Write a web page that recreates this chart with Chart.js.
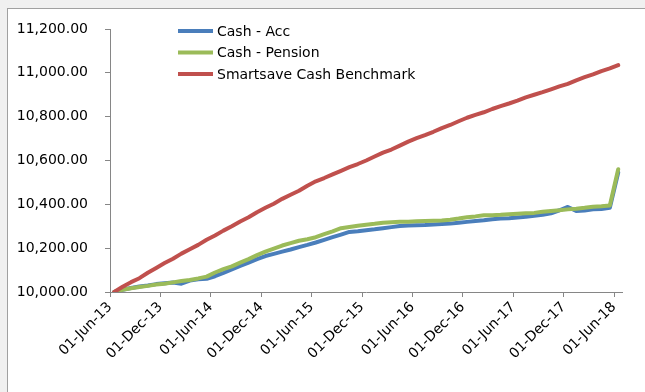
<!DOCTYPE html>
<html>
<head>
<meta charset="utf-8">
<script src="https://cdn.jsdelivr.net/npm/chart.js@4.4.1/dist/chart.umd.min.js"></script>
<style>
  body { margin: 0; background: #f0f0f0; width: 645px; height: 392px; overflow: hidden; }
  .panel { position: absolute; left: 7px; top: 8px; right: 0; bottom: 0; background: #fff;
           border-left: 1px solid #a0a0a0; border-top: 1px solid #a0a0a0; }
  #myChart { position: absolute; left: 0; top: 0; }
</style>
</head>
<body>
<div class="panel"></div>
<canvas id="myChart" width="645" height="392"></canvas>
<script>
// monthly values, Jun-13 .. Jun-18
const cashAcc = [
  10000, 10010, 10018, 10025, 10030, 10036, 10040, 10043, 10038, 10052,
  10058, 10060, 10072, 10087, 10103, 10119, 10134, 10150, 10164, 10174,
  10184, 10194, 10205, 10215, 10226, 10238, 10250, 10262, 10274, 10277,
  10282, 10286, 10291, 10296, 10301, 10303, 10305, 10306, 10308, 10310,
  10312, 10316, 10320, 10324, 10327, 10332, 10335, 10337, 10340, 10343,
  10348, 10352, 10359, 10373, 10388, 10370, 10372, 10377, 10379, 10384,
  10545
]
const cashPension = [
  10000, 10010, 10017, 10023, 10028, 10034, 10038, 10044, 10050, 10055,
  10062, 10070, 10089, 10104, 10117, 10134, 10150, 10168, 10184, 10198,
  10212, 10223, 10234, 10241, 10250, 10264, 10277, 10291, 10297, 10302,
  10307, 10311, 10316, 10318, 10320, 10320, 10323, 10324, 10325, 10326,
  10330, 10335, 10341, 10345, 10350, 10350, 10352, 10355, 10357, 10359,
  10361, 10366, 10370, 10373, 10377, 10380, 10384, 10389, 10391, 10395,
  10560
]
const benchmark = [
  10000, 10024, 10045, 10063, 10088, 10110, 10132, 10152, 10175, 10195,
  10215, 10238, 10258, 10280, 10300, 10322, 10341, 10364, 10384, 10403,
  10425, 10444, 10462, 10485, 10505, 10520, 10537, 10553, 10570, 10584,
  10600, 10618, 10636, 10650, 10668, 10686, 10702, 10716, 10731, 10748,
  10762, 10779, 10795, 10808, 10820, 10835, 10848, 10860, 10873, 10888,
  10900, 10912, 10925, 10938, 10950, 10966, 10980, 10993, 11008, 11020,
  11035
]
const seriesNames = ['Cash - Acc', 'Cash - Pension', 'Smartsave Cash Benchmark']
const seriesColors = ['#4a7ebb', '#9bbb59', '#c0504d']
// x axis counts months from 01-Jun-13, one tick every six months
const xTickValues = [0, 6, 12, 18, 24, 30, 36, 42, 48, 54, 60]
const xTickLabels = ['01-Jun-13', '01-Dec-13', '01-Jun-14', '01-Dec-14', '01-Jun-15', '01-Dec-15',
  '01-Jun-16', '01-Dec-16', '01-Jun-17', '01-Dec-17', '01-Jun-18']
const yTicks = [10000, 10200, 10400, 10600, 10800, 11000, 11200]

const font = { family: 'DejaVu Sans', size: 14 }
const axisGrey = '#868686'

// values are mid-month readings
toPoints = (arr) => arr.map((v, i) => ({ x: i + 0.5, y: v }))

insideLegend = {
  id: 'insideLegend',
  afterDraw: (chart) => {
    const ctx = chart.ctx
    const area = chart.chartArea
    ctx.save()
    ctx.font = font.size + 'px ' + font.family
    ctx.textBaseline = 'middle'
    chart.data.datasets.forEach((ds, i) => {
      const y = area.top + 2 + i * 21.5
      const x = area.left + 68
      ctx.strokeStyle = ds.borderColor
      ctx.lineWidth = 4
      ctx.beginPath()
      ctx.moveTo(x, y)
      ctx.lineTo(x + 35, y)
      ctx.stroke()
      ctx.fillStyle = '#000'
      ctx.fillText(ds.label, x + 39, y + 1)
    })
    ctx.restore()
  }
}

const datasets = [cashAcc, cashPension, benchmark].map((arr, i) => ({
  label: seriesNames[i],
  data: toPoints(arr),
  borderColor: seriesColors[i],
  backgroundColor: seriesColors[i],
  borderWidth: 4,
  pointRadius: 0,
  tension: 0,
  borderJoinStyle: 'round',
  borderCapStyle: 'round',
  order: [2, 1, 0][i]
}))

new Chart(document.getElementById('myChart').getContext('2d'), {
  type: 'line',
  data: { datasets: datasets },
  options: {
    responsive: false,
    animation: false,
    devicePixelRatio: 1,
    layout: { padding: { top: 29, right: 23, left: 0, bottom: 0 } },
    plugins: { legend: { display: false }, tooltip: { enabled: false } },
    scales: {
      x: {
        type: 'linear',
        min: 0,
        max: 60.95,
        afterBuildTicks: (s) => { s.ticks = xTickValues.map(v => ({ value: v })) },
        afterFit: (s) => { s.height = 100 },
        border: { color: axisGrey, width: 1 },
        grid: { drawOnChartArea: false, tickLength: 5, color: axisGrey },
        ticks: {
          font: font,
          color: '#000',
          maxRotation: 45,
          minRotation: 45,
          padding: 2,
          autoSkip: false,
          callback: (v) => xTickLabels[xTickValues.indexOf(v)]
        }
      },
      y: {
        min: 10000,
        max: 11200,
        afterBuildTicks: (s) => { s.ticks = yTicks.map(v => ({ value: v })) },
        afterFit: (s) => { s.width = 110 },
        border: { color: axisGrey, width: 1 },
        grid: { drawOnChartArea: false, tickLength: 5, color: axisGrey },
        ticks: {
          font: font,
          color: '#000',
          padding: 17,
          callback: (v) => v.toLocaleString('en-US', { minimumFractionDigits: 2, maximumFractionDigits: 2 })
        }
      }
    }
  },
  plugins: [insideLegend]
})
</script>
</body>
</html>
